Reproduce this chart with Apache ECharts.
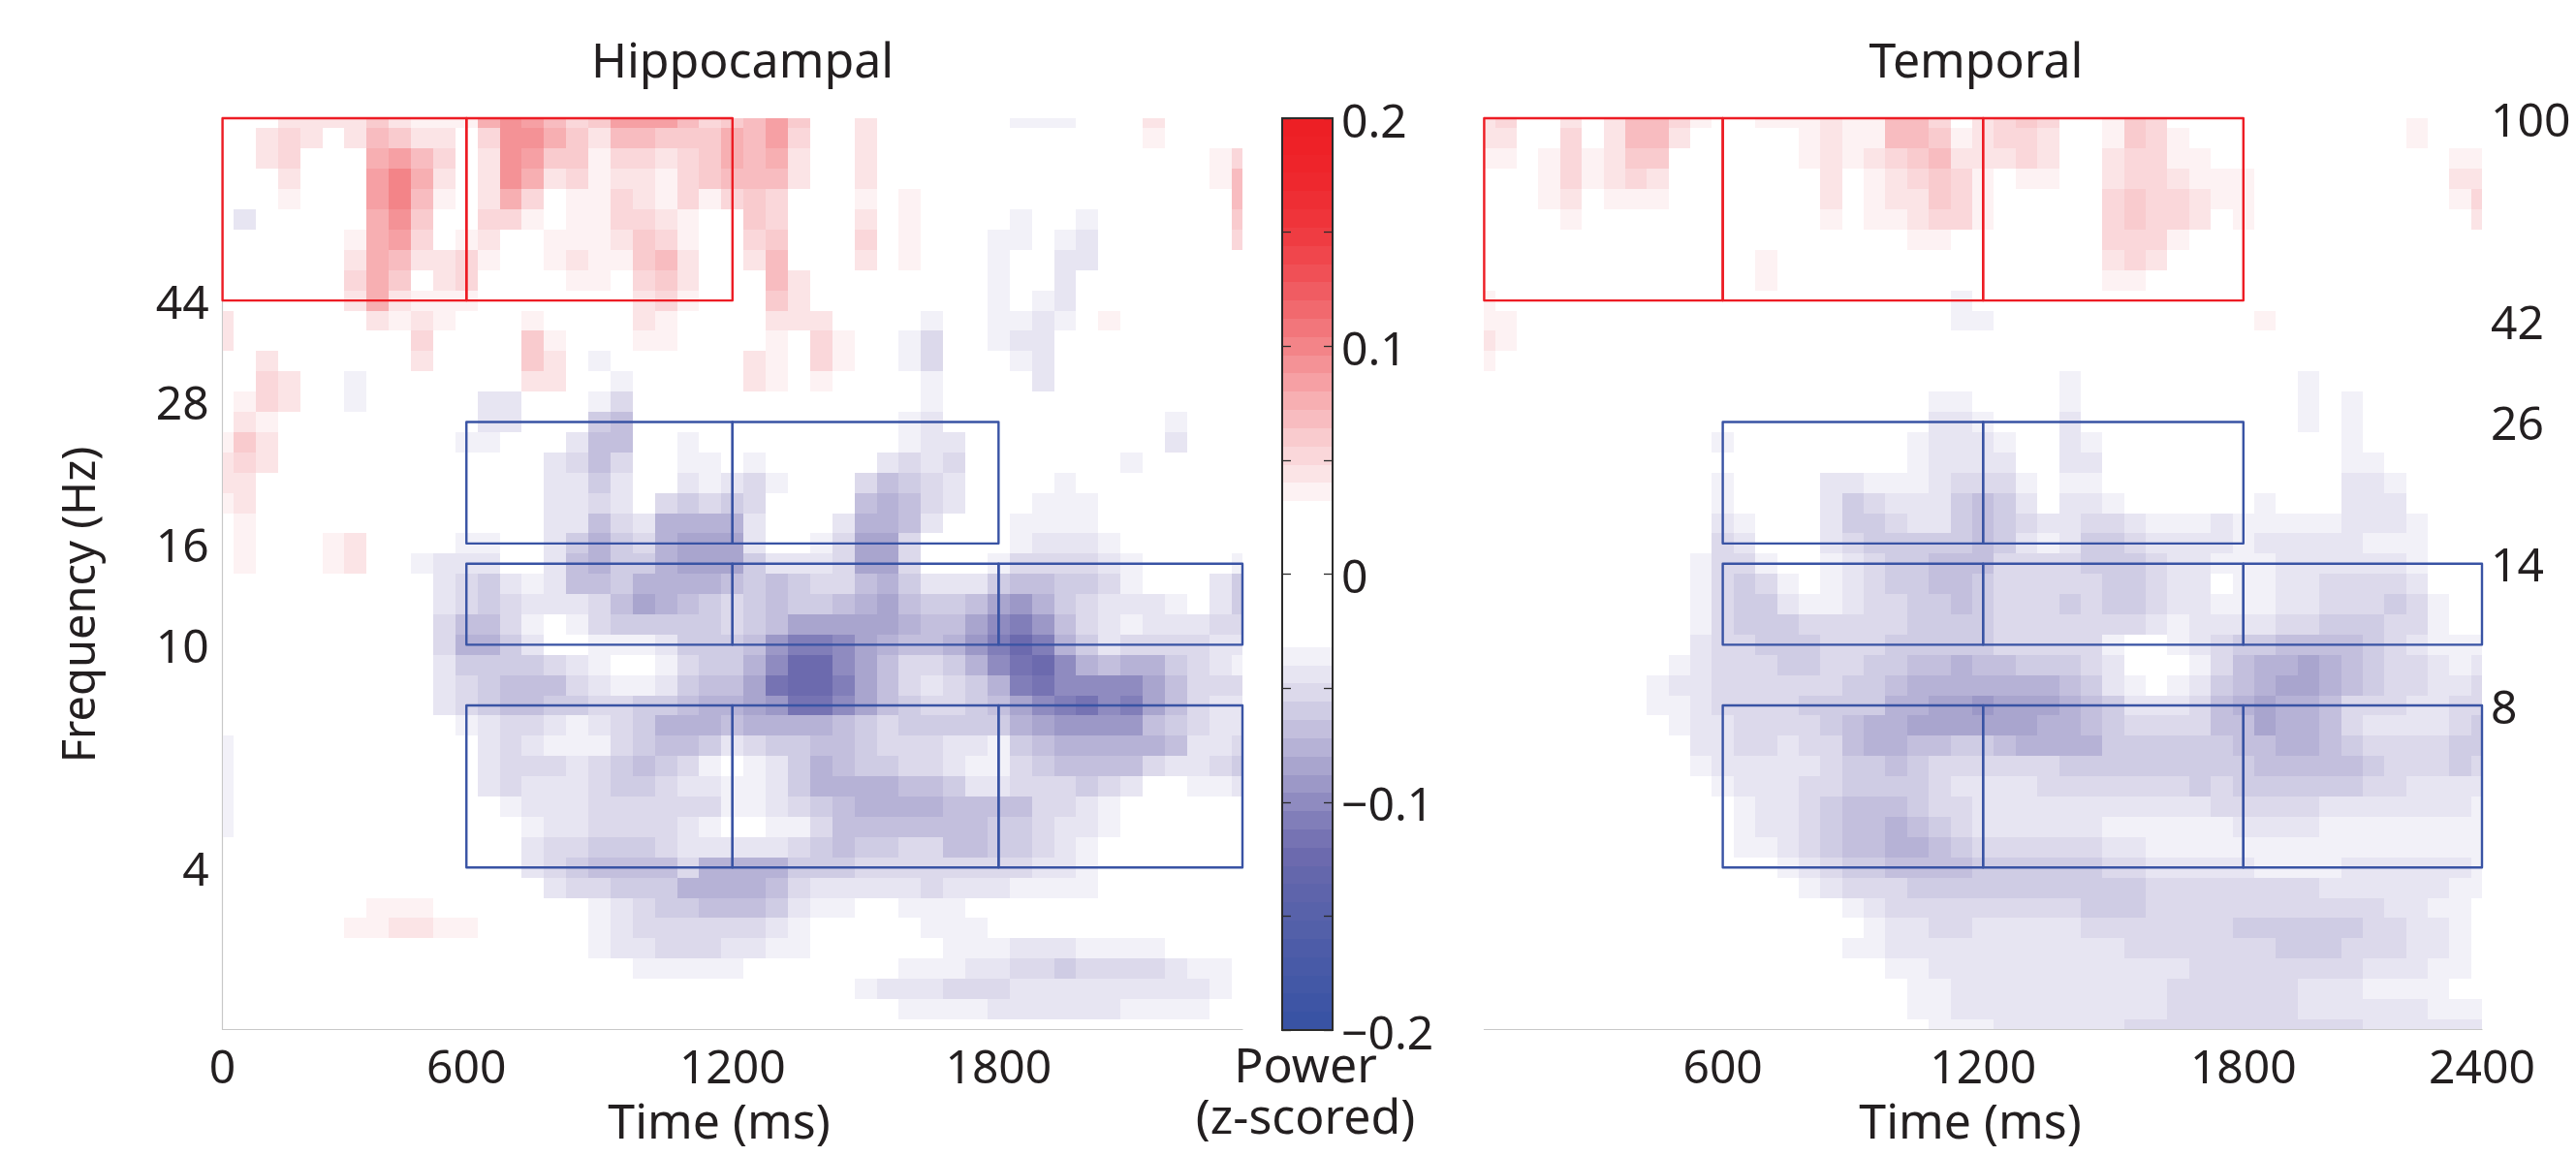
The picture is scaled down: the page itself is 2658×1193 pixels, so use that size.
<!DOCTYPE html>
<html><head><meta charset="utf-8">
<style>html,body{margin:0;padding:0;background:#fff}#c{width:2658px;height:1193px}</style>
<script src="https://cdn.jsdelivr.net/npm/echarts@6/dist/echarts.min.js"></script>
</head><body><div id="c"></div>
<script>
// Time bins 0..46, frequency bins 0..45 (top = 100 Hz).
const timeBinCount = 47;
const freqBinCount = 46;
const hippocampalTimeTicks = [[0,'0'],[11,'600'],[23,'1200'],[35,'1800']];
const temporalTimeTicks = [[11,'600'],[23,'1200'],[35,'1800'],[46,'2400']];
const hippocampalFreqTicks = [[9,'44'],[14,'28'],[21,'16'],[26,'10'],[37,'4']];
const temporalFreqTicks = [[0,'100'],[10,'42'],[15,'26'],[22,'14'],[29,'8']];

// Colour-band readings per frequency row: [firstTimeBin, lastTimeBin, band]; + red, - blue, gaps are white.
const hippocampalBands = [
[[3,6,2],[7,7,4],[8,8,2],[9,11,1],[12,12,6],[13,13,8],[14,14,7],[15,15,5],[16,16,3],[17,17,4],[18,20,7],[21,21,5],[22,22,3],[23,23,4],[24,24,5],[25,25,7],[26,26,4],[29,29,2],[36,38,-1],[42,42,2]],
[[2,2,2],[3,3,3],[4,4,2],[6,6,2],[7,7,5],[8,8,4],[9,10,2],[12,12,3],[13,14,8],[15,15,6],[16,16,4],[17,17,2],[18,19,5],[20,22,4],[23,23,6],[24,24,5],[25,25,7],[26,26,3],[29,29,2],[42,42,1]],
[[2,2,2],[3,3,3],[7,7,6],[8,8,7],[9,9,5],[10,10,3],[12,12,2],[13,13,8],[14,14,7],[15,16,4],[17,17,1],[18,19,3],[20,20,2],[21,21,3],[22,22,4],[23,23,6],[24,24,5],[25,25,6],[26,26,2],[29,29,2],[45,45,1],[46,46,3]],
[[3,3,2],[7,7,7],[8,8,9],[9,9,6],[10,10,2],[12,12,2],[13,13,8],[14,14,6],[15,15,2],[16,16,3],[17,17,1],[18,19,2],[20,20,1],[21,21,3],[22,22,4],[23,25,5],[26,26,2],[29,29,2],[45,45,1],[46,46,5]],
[[3,3,1],[7,7,7],[8,8,9],[9,9,5],[10,10,1],[12,12,2],[13,13,6],[14,14,3],[16,17,1],[18,18,3],[19,19,2],[20,20,1],[21,21,3],[22,22,1],[23,23,3],[24,24,4],[25,25,3],[29,29,1],[31,31,1],[46,46,5]],
[[1,1,-2],[7,7,6],[8,8,8],[9,9,4],[12,13,3],[14,14,1],[16,17,1],[18,19,3],[20,20,2],[21,21,1],[24,24,4],[25,25,3],[29,29,2],[31,31,1],[36,36,-1],[39,39,-1],[46,46,4]],
[[6,6,1],[7,7,6],[8,8,7],[9,9,3],[11,11,1],[12,12,2],[15,17,1],[18,18,2],[19,19,4],[20,20,3],[21,21,1],[24,24,3],[25,25,4],[29,29,3],[31,31,1],[35,36,-1],[38,38,-1],[39,39,-2],[46,46,3]],
[[6,6,2],[7,7,6],[8,8,5],[9,10,2],[11,11,3],[12,12,1],[15,15,1],[16,16,2],[17,18,1],[19,19,4],[20,20,5],[21,21,2],[24,24,2],[25,25,5],[29,29,2],[31,31,1],[35,35,-1],[38,39,-2]],
[[6,6,3],[7,7,6],[8,8,4],[10,10,2],[11,11,3],[16,17,1],[19,19,3],[20,20,4],[21,21,2],[25,25,5],[26,26,2],[35,35,-1],[38,38,-2]],
[[6,6,2],[7,7,6],[8,8,2],[9,11,1],[19,19,2],[20,20,3],[21,21,1],[25,25,4],[26,26,2],[35,35,-1],[37,37,-1],[38,38,-2]],
[[0,0,2],[7,7,2],[8,8,1],[9,9,2],[10,10,1],[14,14,1],[19,19,2],[20,20,1],[25,27,2],[32,32,-1],[35,36,-1],[37,37,-2],[38,38,-1],[40,40,1]],
[[0,0,2],[9,9,3],[14,14,4],[15,15,1],[19,20,1],[25,25,1],[27,27,3],[28,28,1],[31,31,-1],[32,32,-3],[35,35,-1],[36,37,-2]],
[[2,2,2],[9,9,2],[14,14,4],[15,15,2],[17,17,-1],[24,24,2],[25,25,1],[27,27,3],[28,28,1],[31,31,-1],[32,32,-3],[36,36,-1],[37,37,-2]],
[[2,2,3],[3,3,2],[6,6,-1],[14,15,2],[18,18,-1],[24,24,2],[25,25,1],[27,27,1],[32,32,-1],[37,37,-2]],
[[1,1,1],[2,2,3],[3,3,2],[6,6,-1],[12,13,-2],[17,17,-1],[18,18,-3],[32,32,-1]],
[[1,1,2],[2,2,1],[12,13,-2],[17,17,-4],[18,18,-5],[31,31,-1],[32,32,-2],[43,43,-1]],
[[0,0,1],[1,1,4],[2,2,2],[11,12,-1],[16,16,-2],[17,18,-5],[21,21,-1],[31,31,-1],[32,33,-2],[43,43,-2]],
[[0,0,2],[1,1,3],[2,2,2],[15,15,-2],[16,16,-3],[17,17,-5],[18,18,-3],[21,22,-1],[24,24,-1],[30,30,-2],[31,31,-3],[32,32,-2],[33,33,-3],[41,41,-1]],
[[0,1,2],[15,16,-2],[17,17,-4],[18,18,-2],[21,21,-2],[22,22,-1],[23,23,-2],[24,24,-3],[25,25,-1],[29,29,-3],[30,30,-5],[31,31,-4],[32,32,-3],[33,33,-2],[38,38,-1]],
[[0,0,1],[1,1,2],[15,16,-2],[17,17,-3],[18,18,-2],[20,20,-3],[21,21,-4],[22,22,-3],[23,23,-4],[24,24,-3],[29,29,-5],[30,30,-6],[31,31,-5],[32,32,-3],[33,33,-2],[37,39,-1]],
[[1,1,1],[15,16,-2],[17,17,-5],[18,18,-3],[19,19,-2],[20,23,-6],[24,24,-2],[28,28,-2],[29,30,-6],[31,31,-5],[32,32,-2],[36,39,-1]],
[[1,1,1],[5,5,1],[6,6,2],[11,12,-1],[15,15,-2],[16,16,-4],[17,17,-6],[18,18,-4],[19,19,-3],[20,20,-6],[21,22,-7],[23,23,-7],[24,24,-2],[27,27,-1],[28,28,-3],[29,30,-7],[31,31,-3],[36,36,-1],[37,39,-2],[40,40,-1]],
[[1,1,1],[5,5,1],[6,6,2],[9,9,-1],[10,12,-2],[15,15,-2],[16,16,-5],[17,17,-6],[18,19,-4],[20,20,-6],[21,23,-7],[24,24,-4],[25,27,-2],[28,28,-3],[29,30,-7],[31,31,-3],[35,35,-1],[36,39,-3],[40,40,-2],[41,41,-1],[46,46,-1]],
[[10,10,-2],[11,11,-3],[12,12,-4],[13,13,-2],[14,14,-1],[15,15,-2],[16,17,-5],[18,18,-4],[19,22,-6],[23,23,-5],[24,24,-4],[25,25,-5],[26,26,-4],[27,28,-3],[29,29,-5],[30,30,-6],[31,31,-4],[32,34,-2],[35,35,-4],[36,37,-5],[38,39,-4],[40,40,-3],[41,41,-1],[45,45,-2],[46,46,-4]],
[[10,10,-2],[11,11,-3],[12,12,-4],[13,13,-3],[14,16,-2],[17,17,-3],[18,18,-5],[19,19,-7],[20,20,-6],[21,21,-5],[22,22,-4],[23,23,-3],[24,24,-4],[25,25,-5],[26,27,-4],[28,28,-5],[29,29,-6],[30,30,-7],[31,31,-5],[32,33,-4],[34,34,-5],[35,35,-7],[36,36,-8],[37,37,-6],[38,38,-4],[39,39,-3],[40,42,-2],[43,43,-1],[45,45,-2],[46,46,-4]],
[[10,10,-3],[11,12,-5],[13,13,-3],[14,14,-1],[16,16,-1],[17,17,-3],[18,22,-4],[23,23,-3],[24,24,-4],[25,25,-5],[26,30,-7],[31,31,-6],[32,33,-5],[34,34,-7],[35,35,-9],[36,36,-10],[37,37,-8],[38,38,-5],[39,39,-3],[40,40,-2],[41,41,-1],[42,44,-2],[45,46,-3]],
[[10,10,-3],[11,12,-6],[13,13,-4],[14,14,-2],[17,19,-1],[20,20,-2],[21,23,-4],[24,24,-5],[25,25,-8],[26,27,-10],[28,28,-9],[29,29,-7],[30,30,-6],[31,32,-5],[33,33,-6],[34,34,-8],[35,35,-10],[36,36,-12],[37,37,-10],[38,38,-6],[39,39,-4],[40,40,-2],[41,44,-3],[45,46,-2]],
[[10,10,-2],[11,14,-4],[15,15,-3],[16,16,-2],[17,17,-1],[20,20,-1],[21,21,-3],[22,23,-4],[24,24,-6],[25,25,-9],[26,27,-12],[28,28,-9],[29,29,-7],[30,30,-5],[31,32,-3],[33,33,-4],[34,34,-6],[35,35,-9],[36,36,-11],[37,37,-12],[38,38,-9],[39,39,-6],[40,40,-5],[41,42,-6],[43,43,-4],[44,44,-3],[45,45,-2],[46,46,-1]],
[[10,10,-2],[11,11,-3],[12,12,-4],[13,15,-5],[16,16,-3],[17,17,-2],[18,19,-1],[20,20,-2],[21,21,-4],[22,23,-5],[24,24,-7],[25,25,-11],[26,27,-12],[28,28,-10],[29,29,-7],[30,30,-5],[31,31,-3],[32,32,-2],[33,33,-3],[34,34,-4],[35,35,-6],[36,36,-10],[37,37,-11],[38,41,-9],[42,42,-7],[43,43,-5],[44,46,-3]],
[[10,10,-2],[11,11,-3],[12,12,-4],[13,14,-5],[15,16,-4],[17,18,-3],[19,20,-4],[21,21,-5],[22,22,-6],[23,23,-6],[24,24,-7],[25,25,-8],[26,27,-11],[28,28,-9],[29,29,-7],[30,30,-5],[31,31,-4],[32,33,-3],[34,34,-4],[35,35,-5],[36,36,-7],[37,37,-9],[38,38,-10],[39,39,-11],[40,40,-9],[41,41,-10],[42,42,-7],[43,43,-5],[44,44,-3],[45,46,-2]],
[[11,11,-1],[12,12,-2],[13,14,-3],[15,15,-2],[16,16,-1],[17,17,-2],[18,18,-3],[19,19,-4],[20,22,-6],[23,23,-5],[24,27,-6],[28,28,-5],[29,29,-4],[30,30,-3],[31,35,-4],[36,36,-6],[37,37,-7],[38,41,-8],[42,42,-5],[43,43,-4],[44,44,-3],[45,46,-2]],
[[0,0,-1],[12,12,-2],[13,13,-3],[14,14,-2],[15,17,-1],[18,18,-3],[19,19,-4],[20,21,-5],[22,22,-4],[23,23,-2],[24,24,-3],[25,26,-4],[27,28,-5],[29,29,-4],[30,32,-3],[33,34,-2],[35,35,-1],[36,36,-4],[37,37,-5],[38,42,-6],[43,43,-5],[44,45,-2],[46,46,-3]],
[[0,0,-1],[12,12,-2],[13,15,-3],[16,16,-2],[17,17,-3],[18,18,-4],[19,19,-5],[20,20,-4],[21,21,-3],[22,22,-1],[24,24,-1],[25,25,-2],[26,26,-4],[27,27,-6],[28,28,-5],[29,30,-4],[31,32,-3],[33,33,-2],[34,35,-1],[36,36,-3],[37,37,-4],[38,41,-5],[42,42,-3],[43,44,-2],[45,45,-3],[46,46,-4]],
[[0,0,-1],[12,12,-2],[13,13,-3],[14,16,-2],[17,17,-3],[18,19,-4],[20,20,-3],[21,22,-2],[23,24,-1],[25,25,-2],[26,26,-4],[27,30,-6],[31,32,-5],[33,33,-4],[34,35,-2],[36,38,-3],[39,39,-4],[40,40,-3],[41,41,-2],[44,45,-1],[46,46,-2]],
[[0,0,-1],[13,13,-1],[14,16,-2],[17,22,-3],[23,24,-1],[25,25,-2],[26,26,-3],[27,27,-4],[28,28,-5],[29,32,-6],[33,36,-5],[37,38,-3],[39,39,-2],[40,40,-1]],
[[0,0,-1],[14,14,-1],[15,16,-2],[17,20,-3],[21,21,-2],[22,22,-1],[25,26,-1],[27,27,-3],[28,29,-5],[30,34,-5],[35,36,-4],[37,37,-3],[38,39,-2],[40,40,-1]],
[[14,14,-2],[15,16,-3],[17,19,-4],[20,20,-3],[21,25,-2],[26,26,-3],[27,27,-4],[28,28,-5],[29,30,-4],[31,32,-3],[33,34,-5],[35,36,-4],[37,37,-3],[38,38,-2],[39,39,-1]],
[[14,14,-2],[15,15,-3],[16,16,-4],[17,20,-5],[21,21,-3],[22,25,-6],[26,28,-4],[29,36,-3],[37,38,-2],[39,39,-1]],
[[15,15,-2],[16,17,-3],[18,20,-4],[21,21,-6],[22,24,-6],[25,25,-5],[26,26,-3],[27,31,-2],[32,32,-3],[33,35,-2],[36,39,-1]],
[[7,9,1],[17,17,-1],[18,18,-2],[19,19,-3],[20,21,-4],[22,24,-5],[25,25,-4],[26,26,-2],[27,28,-1],[31,33,-1]],
[[6,7,1],[8,9,2],[10,11,1],[17,17,-1],[18,18,-2],[19,24,-3],[25,25,-2],[26,26,-1],[32,34,-1]],
[[17,17,-1],[18,19,-2],[20,22,-3],[23,24,-2],[25,26,-1],[33,35,-1],[36,38,-2],[39,42,-1]],
[[19,23,-1],[31,33,-1],[34,35,-2],[36,37,-3],[38,38,-4],[39,42,-3],[43,43,-2],[44,45,-1]],
[[29,29,-1],[30,32,-2],[33,35,-3],[36,44,-2],[45,45,-1]],
[[31,34,-1],[35,40,-2],[41,44,-1]],
[]
];
const temporalBands = [
[[0,0,2],[1,1,3],[4,4,2],[6,6,2],[7,8,5],[9,9,3],[10,10,1],[13,15,1],[16,16,2],[17,18,1],[19,20,5],[21,21,3],[23,23,2],[24,24,3],[25,25,4],[26,26,3],[29,29,1],[30,30,4],[31,31,3],[43,43,1]],
[[0,1,2],[4,4,3],[6,6,2],[7,8,5],[9,9,2],[15,15,1],[16,16,2],[17,18,1],[19,20,5],[21,21,4],[22,22,1],[23,23,2],[24,25,3],[26,26,2],[29,29,1],[30,30,4],[31,31,3],[32,32,1],[43,43,1]],
[[0,1,1],[3,3,1],[4,4,3],[5,5,1],[6,6,2],[7,8,4],[15,15,1],[16,16,2],[17,17,1],[18,18,2],[19,19,3],[20,20,4],[21,21,5],[22,24,2],[25,25,3],[26,26,2],[29,29,2],[30,31,3],[32,33,1],[45,46,1]],
[[3,3,1],[4,4,3],[5,5,1],[6,6,2],[7,7,3],[8,8,2],[16,16,2],[18,18,1],[19,19,2],[20,20,3],[21,21,4],[22,22,3],[23,23,1],[25,26,1],[29,29,2],[30,31,3],[32,32,2],[33,35,1],[45,46,2]],
[[3,3,1],[4,4,2],[6,8,1],[16,16,2],[18,18,1],[19,20,2],[21,21,4],[22,22,3],[23,23,1],[29,29,3],[30,30,4],[31,32,3],[33,33,2],[34,35,1],[45,45,1],[46,46,3]],
[[4,4,1],[16,16,1],[18,19,1],[20,20,2],[21,22,3],[23,23,1],[29,29,3],[30,30,4],[31,32,3],[33,33,2],[35,35,1],[46,46,2]],
[[20,21,1],[29,31,3],[32,32,1]],
[[13,13,1],[29,29,2],[30,30,3],[31,31,2]],
[[13,13,1],[29,30,1]],
[[0,0,1],[22,22,-1]],
[[0,1,1],[22,23,-1],[36,36,1]],
[[0,0,2],[1,1,1]],
[[0,0,1]],
[[27,27,-1],[38,38,-1]],
[[21,22,-1],[27,27,-1],[38,38,-1],[40,40,-1]],
[[21,22,-2],[23,23,-1],[27,27,-2],[38,38,-1],[40,40,-1]],
[[11,11,-1],[20,20,-1],[21,23,-2],[24,24,-1],[27,27,-2],[28,28,-1],[40,40,-1]],
[[20,20,-1],[21,24,-2],[27,28,-2],[40,41,-1]],
[[11,11,-1],[16,17,-2],[18,20,-1],[21,21,-2],[22,24,-3],[25,25,-1],[27,28,-1],[40,41,-2],[42,42,-1]],
[[11,11,-1],[16,16,-2],[17,17,-4],[18,18,-3],[19,21,-2],[22,22,-4],[23,23,-5],[24,24,-4],[25,25,-2],[27,28,-2],[29,29,-1],[36,36,-1],[40,42,-2]],
[[11,11,-2],[12,12,-1],[16,16,-2],[17,18,-4],[19,19,-3],[20,21,-2],[22,22,-4],[23,23,-5],[24,24,-4],[25,25,-3],[26,27,-2],[28,29,-3],[30,30,-2],[31,33,-1],[34,34,-2],[35,39,-1],[40,42,-2],[43,43,-1]],
[[11,11,-3],[12,12,-2],[16,16,-2],[17,17,-3],[18,22,-4],[23,23,-5],[24,24,-4],[25,25,-2],[26,26,-1],[27,27,-2],[28,29,-4],[30,30,-3],[31,34,-2],[35,35,-1],[36,40,-2],[41,43,-1]],
[[10,10,-1],[11,12,-3],[13,13,-1],[16,16,-1],[17,17,-2],[18,18,-3],[19,20,-4],[21,23,-5],[24,27,-3],[28,30,-4],[31,31,-3],[32,33,-2],[34,36,-1],[37,42,-2],[43,43,-1]],
[[10,10,-1],[11,11,-3],[12,12,-4],[13,13,-3],[14,14,-1],[16,16,-1],[17,17,-2],[18,18,-3],[19,20,-4],[21,22,-5],[23,23,-4],[24,28,-3],[29,30,-4],[31,31,-3],[32,33,-2],[35,36,-1],[37,38,-2],[39,42,-3],[43,43,-2]],
[[10,10,-1],[11,11,-3],[12,13,-4],[14,14,-2],[15,16,-1],[17,17,-2],[18,19,-3],[20,21,-4],[22,22,-5],[23,23,-4],[24,26,-3],[27,27,-4],[28,28,-3],[29,30,-4],[31,31,-3],[32,33,-2],[34,36,-1],[37,38,-2],[39,41,-3],[42,42,-4],[43,43,-3],[44,44,-1]],
[[10,10,-1],[11,11,-3],[12,14,-4],[15,19,-3],[20,23,-4],[24,30,-3],[31,31,-2],[32,32,-1],[33,36,-2],[37,38,-3],[39,41,-4],[42,43,-3],[44,44,-1]],
[[10,10,-2],[11,12,-3],[13,15,-4],[16,18,-3],[19,23,-4],[24,28,-3],[29,29,-1],[32,32,-1],[33,33,-2],[34,34,-3],[35,36,-4],[37,40,-5],[41,41,-4],[42,42,-3],[43,43,-2],[44,46,-1]],
[[9,9,-1],[10,10,-2],[11,13,-3],[14,15,-4],[16,17,-3],[18,19,-4],[20,21,-5],[22,22,-6],[23,23,-5],[24,24,-5],[25,27,-4],[28,28,-3],[29,29,-2],[33,33,-1],[34,34,-3],[35,35,-5],[36,37,-6],[38,38,-7],[39,39,-6],[40,40,-5],[41,41,-4],[42,43,-3],[44,44,-2],[45,45,-1],[46,46,-2]],
[[8,8,-1],[9,10,-2],[11,16,-3],[17,18,-4],[19,19,-5],[20,26,-6],[27,27,-5],[28,28,-4],[29,29,-2],[30,30,-1],[32,32,-1],[33,33,-2],[34,34,-4],[35,35,-5],[36,36,-6],[37,38,-7],[39,39,-6],[40,40,-5],[41,41,-4],[42,43,-3],[44,45,-2],[46,46,-3]],
[[8,9,-1],[10,10,-2],[11,14,-3],[15,18,-4],[19,20,-6],[21,22,-7],[23,23,-8],[24,26,-7],[27,27,-6],[28,28,-5],[29,29,-4],[30,32,-2],[33,33,-3],[34,34,-5],[35,35,-6],[36,36,-7],[37,38,-6],[39,39,-5],[40,42,-3],[43,44,-2],[45,46,-3]],
[[9,9,-1],[10,11,-2],[12,15,-3],[16,16,-4],[17,17,-5],[18,19,-6],[20,25,-7],[26,27,-6],[28,28,-5],[29,29,-4],[30,33,-3],[34,35,-5],[36,36,-7],[37,38,-6],[39,39,-5],[40,40,-3],[41,44,-2],[45,45,-3],[46,46,-4]],
[[10,11,-2],[12,13,-3],[14,14,-2],[15,16,-3],[17,17,-5],[18,19,-6],[20,21,-5],[22,23,-4],[24,24,-5],[25,28,-6],[29,34,-4],[35,36,-5],[37,38,-6],[39,39,-5],[40,40,-4],[41,44,-3],[45,46,-4]],
[[10,10,-1],[11,15,-2],[16,16,-3],[17,18,-4],[19,19,-5],[20,20,-4],[21,26,-3],[27,35,-4],[36,40,-5],[41,41,-4],[42,44,-3],[45,45,-4],[46,46,-3]],
[[11,11,-1],[12,14,-2],[15,16,-3],[17,20,-4],[21,21,-3],[22,25,-2],[26,32,-3],[33,33,-4],[34,34,-3],[35,40,-4],[41,42,-3],[43,46,-2]],
[[12,12,-1],[13,14,-2],[15,15,-3],[16,16,-4],[17,19,-5],[20,20,-4],[21,22,-3],[23,33,-2],[34,38,-3],[39,45,-2],[46,46,-1]],
[[12,12,-1],[13,14,-2],[15,15,-3],[16,16,-4],[17,18,-5],[19,19,-6],[20,20,-5],[21,21,-4],[22,22,-3],[23,28,-2],[29,34,-1],[35,38,-2],[39,46,-1]],
[[12,13,-1],[14,14,-2],[15,15,-3],[16,16,-4],[17,18,-5],[19,20,-6],[21,21,-5],[22,22,-4],[23,28,-3],[29,30,-2],[31,46,-1]],
[[14,14,-1],[15,15,-2],[16,16,-3],[17,18,-4],[19,22,-5],[23,28,-4],[29,30,-3],[31,35,-2],[36,39,-1],[40,45,-2],[46,46,-1]],
[[15,15,-1],[16,16,-2],[17,19,-3],[20,30,-4],[31,38,-3],[39,44,-2],[45,46,-1]],
[[17,17,-1],[18,18,-2],[19,27,-3],[28,30,-4],[31,41,-3],[42,43,-2],[44,45,-1]],
[[18,18,-1],[19,20,-2],[21,22,-3],[23,27,-2],[28,34,-3],[35,40,-4],[41,42,-3],[43,44,-2],[45,45,-1]],
[[17,18,-1],[19,29,-2],[30,36,-3],[37,39,-4],[40,42,-3],[43,44,-2],[45,45,-1]],
[[19,20,-1],[21,32,-2],[33,40,-3],[41,43,-2],[44,45,-1]],
[[20,21,-1],[22,31,-2],[32,37,-3],[38,40,-2],[41,44,-1]],
[[20,21,-1],[22,31,-2],[32,37,-3],[38,43,-2],[44,46,-1]],
[[21,23,-1],[24,29,-2],[30,40,-3],[41,46,-2]]
];

// Analysis windows, in time / frequency bins.
const redBoxColumns = { hippocampal:[[0,11],[11,23]], temporal:[[0,11],[11,23],[23,35]] };
const redBoxRows = [0,9];
const blueBoxRows = [[15,21],[22,26],[29,37]];
const blueBoxColumns = [[[11,23],[23,35]], [[11,23],[23,35],[35,46]], [[11,23],[23,35],[35,46]]];

// Colour bar: band width and band colours.
const whiteHalfWidth = 0.032;
const bandWidth = 0.008;
const redBandColors = ['#fdf2f3','#fbe4e6','#fad7da','#f9cbce','#f8bcc0','#f7afb2','#f6a0a4','#f49296','#f38488','#f2767b','#f1696e','#f05c62','#f05056','#f0464c','#ef3c42','#ef343a','#ee2e34','#ee282e','#ee242a','#ee2127','#ed1f25'];
const blueBandColors = ['#f2f1f8','#e7e5f2','#dcd9eb','#cfcce4','#c3bfdd','#b6b2d6','#a9a5ce','#9c98c7','#8f8bc0','#817eb9','#7673b3','#6c6aae','#6467ac','#5e64ab','#5862aa','#5360a9','#4d5ca8','#485aa7','#4358a6','#3e55a5','#3953a4'];

const FONT = '"Noto Sans"';
const TXT = '#231f20';
const FS = 48;

function bandToPower(b){ return b===0 ? 0 : Math.sign(b)*(whiteHalfWidth + bandWidth*(Math.abs(b)-0.5)); }
function cells(rows){
  const out=[];
  rows.forEach((runs,r)=>runs.forEach(([a,z,b])=>{ for(let c=a;c<=z;c++) out.push([c,r,bandToPower(b)]); }));
  return out;
}
function boxes(cols,rows){ return cols.map(([a,b])=>[a,b,rows[0],rows[1]]); }
function tickLabeller(ticks){ const m=new Map(ticks); return v=>m.has(v)?m.get(v):''; }

const pieces=[{gte:-whiteHalfWidth,lte:whiteHalfWidth,color:'#ffffff'}];
redBandColors.forEach((color,i)=>pieces.push({gt:whiteHalfWidth+bandWidth*i,lte:whiteHalfWidth+bandWidth*(i+1),color}));
blueBandColors.forEach((color,i)=>pieces.push({lt:-whiteHalfWidth-bandWidth*i,gte:-whiteHalfWidth-bandWidth*(i+1),color}));

function renderCell(p,api){
  const c=api.value(0), r=api.value(1);
  const a=api.coord([Math.max(c-.5,0),Math.max(r-.5,0)]);
  const b=api.coord([Math.min(c+.5,timeBinCount-1),Math.min(r+.5,freqBinCount-1)]);
  const x=Math.round(a[0]), y=Math.round(a[1]);
  return {type:'rect',shape:{x,y,width:Math.round(b[0])-x,height:Math.round(b[1])-y},style:{fill:api.visual('color')}};
}
function renderBox(p,api){
  const a=api.coord([api.value(0),api.value(2)]), b=api.coord([api.value(1),api.value(3)]);
  return {type:'rect',shape:{x:a[0],y:a[1],width:b[0]-a[0],height:b[1]-a[1]},
    style:{fill:'none',stroke:api.visual('color'),lineWidth:2.4,lineJoin:'round'}};
}
function renderBarBand(p,api){
  const z=api.value(1), h=api.value(3);
  const a=api.coord([0,z+h]), b=api.coord([1,z-h]);
  const y=Math.round(a[1]);
  return {type:'rect',shape:{x:a[0],y,width:b[0]-a[0],height:Math.round(b[1])-y},style:{fill:api.visual('color')}};
}
function heat(name,rows,g){ return {name,type:'custom',coordinateSystem:'cartesian2d',xAxisIndex:g,yAxisIndex:g,
  dimensions:['time','freq','power'],encode:{x:0,y:1},renderItem:renderCell,data:cells(rows),silent:true,z:2}; }
function boxSeries(color,data,g){ return {type:'custom',coordinateSystem:'cartesian2d',xAxisIndex:g,yAxisIndex:g,
  encode:{x:[0,1],y:[2,3]},renderItem:renderBox,itemStyle:{color},data,silent:true,z:4,clip:false}; }

const barData=[[0.5,0,0,whiteHalfWidth]];
redBandColors.forEach((c,i)=>{const z=bandToPower(i+1);barData.push([0.5,z,z,bandWidth/2]);});
blueBandColors.forEach((c,i)=>{const z=bandToPower(-(i+1));barData.push([0.5,z,z,bandWidth/2]);});

const grayLine={show:true,lineStyle:{color:'#c8c8c8',width:1.2}};
function timeAxis(g,ticks){ return {type:'value',gridIndex:g,min:0,max:timeBinCount-1,splitLine:{show:false},
  axisLine:{...grayLine,onZero:false},axisTick:{show:false},
  axisLabel:{customValues:ticks.map(t=>t[0]),formatter:tickLabeller(ticks),color:TXT,fontFamily:FONT,fontSize:FS,margin:18,hideOverlap:false}}; }
function freqAxis(g,ticks,position,margin,line){ return {type:'value',gridIndex:g,inverse:true,min:0,max:freqBinCount-1,position,splitLine:{show:false},
  axisLine:line?{...grayLine,onZero:false}:{show:false},axisTick:{show:false},
  axisLabel:{customValues:ticks.map(t=>t[0]),formatter:tickLabeller(ticks),color:TXT,fontFamily:FONT,fontSize:FS,margin,verticalAlign:'top',lineHeight:10,hideOverlap:false}}; }
function label(x,y,text,rotation,size){ return {type:'text',x,y,rotation:rotation||0,z:10,
  style:{text,fontFamily:FONT,fontSize:size||50,fill:TXT,textAlign:'center',textVerticalAlign:'middle'}}; }
function barLabel(v){ const r=Math.round(v*100); if(r%10!==0) return ''; if(r===0) return '0';
  return (r<0?'\u2212':'')+Math.abs(r/100).toFixed(1); }
function barTick(){ return {show:true,inside:true,length:9,lineStyle:{color:'#2b2b2b',width:1.3}}; }

const chart=echarts.init(document.getElementById('c'));
chart.setOption({
  animation:false,backgroundColor:'#fff',
  textStyle:{fontFamily:FONT},
  grid:[
    {left:229.6,top:122,width:1052.4,height:940.4},
    {left:1531.4,top:122,width:1029.6,height:940.4},
    {left:1323,top:122,width:52,height:941}
  ],
  xAxis:[timeAxis(0,hippocampalTimeTicks),timeAxis(1,temporalTimeTicks),
    {type:'value',gridIndex:2,min:0,max:1,show:false}],
  yAxis:[freqAxis(0,hippocampalFreqTicks,'left',14,true),freqAxis(1,temporalFreqTicks,'right',9,false),
    {type:'value',gridIndex:2,min:-0.2,max:0.2,interval:0.05,position:'left',splitLine:{show:false},axisLine:{show:false},axisTick:barTick(),axisLabel:{show:false},z:5},
    {type:'value',gridIndex:2,min:-0.2,max:0.2,interval:0.05,position:'right',splitLine:{show:false},axisLine:{show:false},axisTick:barTick(),
     axisLabel:{formatter:barLabel,color:TXT,fontFamily:FONT,fontSize:FS,margin:9,verticalAlign:'top',lineHeight:12,hideOverlap:false,showMinLabel:true,showMaxLabel:true},z:5}],
  visualMap:{type:'piecewise',show:false,dimension:2,seriesIndex:[0,1,2],pieces},
  series:[
    heat('Hippocampal',hippocampalBands,0),
    heat('Temporal',temporalBands,1),
    {name:'Power',type:'custom',coordinateSystem:'cartesian2d',xAxisIndex:2,yAxisIndex:2,dimensions:['x','y','power','half'],encode:{x:0,y:1},renderItem:renderBarBand,data:barData,silent:true,z:2},
    boxSeries('#ed1c24',boxes(redBoxColumns.hippocampal,redBoxRows),0),
    boxSeries('#ed1c24',boxes(redBoxColumns.temporal,redBoxRows),1),
    ...[0,1].map(g=>boxSeries('#3953a4',blueBoxRows.flatMap((rows,i)=>boxes(blueBoxColumns[i],rows)),g)),
    {type:'custom',coordinateSystem:'cartesian2d',xAxisIndex:2,yAxisIndex:2,encode:{x:[0,1],y:[2,3]},renderItem:(p,api)=>{
       const a=api.coord([0,0.2]),b=api.coord([1,-0.2]);
       return {type:'rect',shape:{x:a[0],y:a[1],width:b[0]-a[0],height:b[1]-a[1]},style:{fill:'none',stroke:'#2b2b2b',lineWidth:2}};
     },data:[[0,1,0.2,-0.2]],silent:true,z:6,clip:false}
  ],
  graphic:[
    label(766,66,'Hippocampal'),
    label(2039,66,'Temporal'),
    label(85,624,'Frequency (Hz)',Math.PI/2,47),
    label(742,1161,'Time (ms)'),
    label(2033,1161,'Time (ms)'),
    label(1347,1103,'Power'),
    label(1347,1156,'(z-scored)')
  ]
});
</script></body></html>
